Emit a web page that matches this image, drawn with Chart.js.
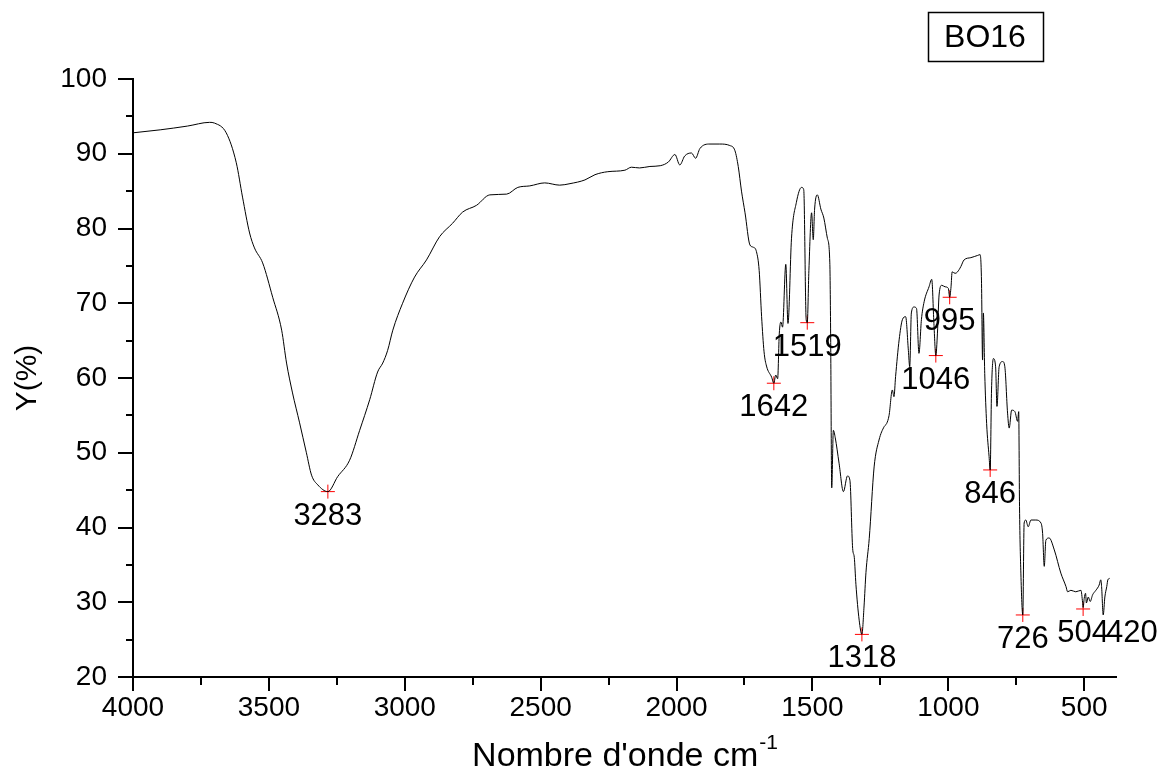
<!DOCTYPE html>
<html>
<head>
<meta charset="utf-8">
<script src="https://cdn.jsdelivr.net/npm/chart.js@4.4.1/dist/chart.umd.min.js"></script>
<style>
    html, body { margin: 0; padding: 0; background: #fff; }
    #wrap { width: 1158px; height: 771px; position: relative; }
</style>
</head>
<body>
<div id="wrap"><canvas id="irChart"></canvas></div>
<script>
// IR spectrum BO16
const wavenumbers = [
    4000, 3900, 3800, 3718, 3700, 3657, 3620, 3597, 3571, 3553, 3523, 3486, 3453, 3435, 3413, 3387,
    3362, 3343, 3320, 3283, 3247, 3203, 3166, 3129, 3100, 3081, 3063, 3044, 3008, 2964, 2920, 2872,
    2824, 2787, 2736, 2687, 2625, 2584, 2540, 2485, 2430, 2392, 2337, 2300, 2253, 2190, 2166, 2136,
    2098, 2060, 2030, 2006, 1988, 1970, 1945, 1930, 1914, 1877, 1841, 1804, 1785, 1773, 1761, 1748,
    1730, 1718, 1706, 1696, 1687, 1678, 1669, 1650, 1642, 1635, 1628, 1622, 1616, 1610, 1598, 1590,
    1577, 1559, 1540, 1532, 1523, 1519, 1513, 1503, 1497, 1492, 1482, 1469, 1458, 1445, 1436, 1433,
    1429, 1423, 1416, 1402, 1386, 1371, 1362, 1352, 1346, 1340, 1328, 1318, 1310, 1303, 1291, 1273,
    1255, 1236, 1227, 1218, 1206, 1200, 1194, 1181, 1169, 1157, 1147, 1142, 1136, 1126, 1117, 1108,
    1099, 1089, 1071, 1061, 1053, 1046, 1040, 1034, 1024, 1012, 1000, 995, 990, 986, 975, 966,
    954, 942, 917, 892, 883, 878, 874, 871, 866, 859, 850, 846, 841, 834, 826, 821,
    813, 800, 792, 782, 776, 767, 755, 745, 741, 738, 733, 726, 721, 715, 706, 696,
    678, 659, 653, 647, 641, 629, 610, 586, 567, 561, 549, 531, 512, 506, 504, 500,
    495, 492, 485, 478, 469, 457, 445, 439, 436, 430, 424, 417, 413, 406
];
const transmittance = [
    92.8, 93.2, 93.7, 94.2, 94.1, 92.8, 88.8, 84.2, 79.4, 77.4, 75.4, 70.8, 66.4, 62.0, 58.0, 54.0,
    50.0, 47.0, 45.7, 44.8, 46.8, 49.0, 53.0, 57.1, 60.8, 62.0, 63.7, 66.4, 70.0, 73.5, 75.8, 78.9,
    80.7, 82.2, 83.1, 84.5, 84.6, 85.5, 85.7, 86.1, 85.8, 86.0, 86.5, 87.2, 87.6, 87.8, 88.2, 88.1,
    88.3, 88.4, 88.9, 89.9, 88.5, 89.7, 90.1, 89.4, 90.7, 91.3, 91.3, 91.1, 90.4, 88.3, 85.0, 82.1,
    77.8, 77.5, 76.9, 74.4, 68.2, 63.5, 61.6, 60.1, 59.3, 60.4, 59.9, 65.9, 67.5, 66.8, 75.2, 67.3,
    78.7, 83.5, 85.5, 85.2, 67.8, 67.4, 74.4, 82.1, 78.5, 82.6, 84.5, 82.6, 81.4, 78.7, 75.4, 65.9,
    45.3, 53.0, 52.0, 48.6, 44.8, 46.9, 46.3, 37.2, 36.0, 32.4, 27.6, 25.7, 29.5, 34.0, 38.5, 48.1,
    51.7, 53.5, 53.9, 55.0, 58.4, 57.5, 60.2, 65.1, 67.8, 68.2, 63.7, 61.5, 68.7, 69.5, 69.3, 63.3,
    67.8, 70.2, 72.2, 73.2, 67.3, 63.0, 66.0, 71.1, 72.4, 72.2, 72.0, 70.8, 72.2, 74.2, 74.0, 74.2,
    74.9, 75.8, 76.1, 76.4, 76.5, 73.1, 62.4, 68.7, 60.6, 53.9, 49.5, 47.7, 58.4, 62.6, 61.5, 56.2,
    61.5, 62.2, 61.5, 55.3, 53.3, 55.7, 55.5, 54.2, 55.5, 42.8, 33.9, 28.3, 40.6, 41.0, 40.1, 41.0,
    41.0, 40.6, 39.2, 34.8, 38.3, 38.6, 37.0, 33.9, 32.1, 31.4, 31.6, 31.4, 31.6, 30.0, 29.3, 30.5,
    31.2, 29.9, 30.7, 30.1, 31.0, 31.6, 32.3, 33.0, 32.1, 28.3, 30.7, 32.1, 33.0, 33.2
];

// marked peaks
const peakWavenumbers = [3283, 1642, 1519, 1318, 1046, 995, 846, 726, 504, 420];
const peakValues = [44.8, 59.3, 67.4, 25.7, 63.0, 70.8, 47.7, 28.3, 29.1, 29.1];

// axes
const xTicks = [4000, 3500, 3000, 2500, 2000, 1500, 1000, 500];
const yTicks = [20, 30, 40, 50, 60, 70, 80, 90, 100];
const xMinorStep = 250;
const yMinorStep = 5;

const sampleName = 'BO16';
const xTitle = "Nombre d'onde cm";
const xTitleSup = '-1';
const yTitle = 'Y(%)';

const FONT = "Arial, 'Liberation Sans', sans-serif";

const spectrum = wavenumbers.map((w, i) => ({ x: w, y: transmittance[i] }));
const peaks = peakWavenumbers.map((w, i) => ({ x: w, y: peakValues[i] }));

// ticks, titles, peak labels and sample box
const decorPlugin = {
    id: 'decor',
    afterDraw(chart) {
        const ctx = chart.ctx;
        const xs = chart.scales.x;
        const ys = chart.scales.y;
        const area = chart.chartArea;
        ctx.save();
        ctx.strokeStyle = '#000';
        ctx.lineWidth = 2;

        // x ticks
        ctx.beginPath();
        xTicks.forEach(v => {
            const px = Math.round(xs.getPixelForValue(v));
            ctx.moveTo(px, area.bottom);
            ctx.lineTo(px, area.bottom + 14);
            const m = v - xMinorStep;
            if (m >= xs.min) {
                const pm = Math.round(xs.getPixelForValue(m));
                ctx.moveTo(pm, area.bottom);
                ctx.lineTo(pm, area.bottom + 8);
            }
        });
        // y ticks
        yTicks.forEach(v => {
            const py = Math.round(ys.getPixelForValue(v));
            ctx.moveTo(area.left, py);
            ctx.lineTo(area.left - 15, py);
            const m = v + yMinorStep;
            if (m <= ys.max) {
                const pm = Math.round(ys.getPixelForValue(m));
                ctx.moveTo(area.left, pm);
                ctx.lineTo(area.left - 7, pm);
            }
        });
        ctx.stroke();

        // x title with superscript
        ctx.fillStyle = '#000';
        ctx.textBaseline = 'alphabetic';
        ctx.font = '34px ' + FONT;
        const w1 = ctx.measureText(xTitle).width;
        ctx.font = '21px ' + FONT;
        const w2 = ctx.measureText(xTitleSup).width;
        const cx = (area.left + area.right) / 2;
        const x0 = cx - (w1 + w2) / 2;
        ctx.font = '34px ' + FONT;
        ctx.textAlign = 'left';
        ctx.fillText(xTitle, x0, 766);
        ctx.font = '21px ' + FONT;
        ctx.fillText(xTitleSup, x0 + w1 + 1, 749);

        // peak labels
        ctx.font = '31px ' + FONT;
        const meta = chart.getDatasetMeta(1);
        meta.data.forEach((pt, i) => {
            const txt = String(peakWavenumbers[i]);
            const tw = ctx.measureText(txt).width;
            ctx.textAlign = (pt.x + tw / 2 > area.right) ? 'left' : 'center';
            ctx.fillText(txt, pt.x, pt.y + 33);
        });

        // sample name box
        ctx.font = '32px ' + FONT;
        ctx.textAlign = 'center';
        ctx.textBaseline = 'middle';
        ctx.fillText(sampleName, 985, 38);
        ctx.lineWidth = 1.5;
        ctx.strokeRect(928.5, 12.5, 115, 49);
        ctx.restore();
    }
};

document.addEventListener('DOMContentLoaded', function () {
    const ctx = document.getElementById('irChart').getContext('2d');

    const irChart = new Chart(ctx, {
        type: 'scatter',
        data: {
            datasets: [{
                label: sampleName,
                data: spectrum,
                showLine: true,
                borderColor: '#000',
                borderWidth: 1,
                pointRadius: 0,
                tension: 0.4,
                cubicInterpolationMode: 'monotone'
            }, {
                label: 'peaks',
                data: peaks,
                showLine: false,
                pointStyle: 'cross',
                pointRadius: c => (peakWavenumbers[c.dataIndex] < 450 ? 0 : 7),
                borderColor: '#ff0000',
                borderWidth: 1
            }]
        },
        options: {
            responsive: true,
            maintainAspectRatio: false,
            animation: false,
            layout: { padding: { top: 79, right: 42, left: 0, bottom: 0 } },
            plugins: {
                legend: { display: false },
                tooltip: { enabled: false }
            },
            scales: {
                x: {
                    type: 'linear',
                    reverse: true,
                    min: 383,
                    max: 4000,
                    afterBuildTicks: s => { s.ticks = xTicks.map(v => ({ value: v })); },
                    afterFit: s => { s.height = 94; },
                    grid: { display: false, drawTicks: true, tickLength: 14 },
                    border: { display: true, color: '#000', width: 2 },
                    ticks: {
                        color: '#000',
                        padding: 0,
                        maxRotation: 0,
                        autoSkip: false,
                        callback: v => String(v),
                        font: { family: FONT, size: 28 }
                    }
                },
                y: {
                    min: 20,
                    max: 100,
                    afterBuildTicks: s => { s.ticks = yTicks.map(v => ({ value: v })); },
                    afterFit: s => { s.width = 133; },
                    grid: { display: false, drawTicks: true, tickLength: 15 },
                    border: { display: true, color: '#000', width: 2 },
                    ticks: {
                        color: '#000',
                        padding: 11,
                        callback: v => String(v),
                        font: { family: FONT, size: 28 }
                    },
                    title: {
                        display: true,
                        text: yTitle,
                        color: '#000',
                        padding: { top: 10, bottom: 0 },
                        font: { family: FONT, size: 30 }
                    }
                }
            }
        },
        plugins: [decorPlugin]
    });
});
</script>
</body>
</html>
